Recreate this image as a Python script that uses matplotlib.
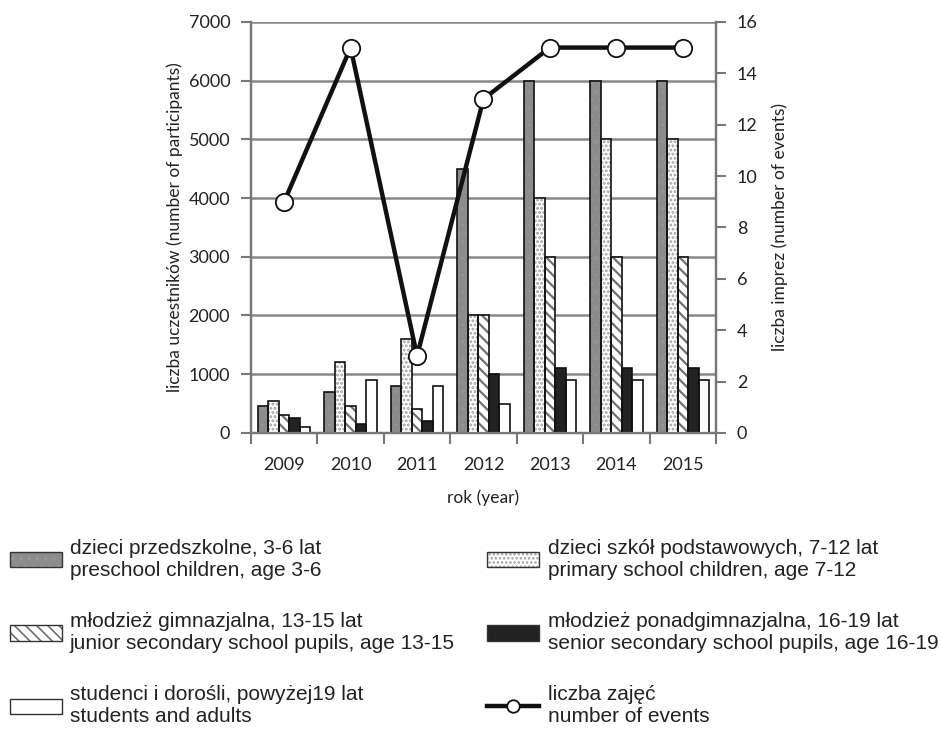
import matplotlib
matplotlib.use("Agg")
import matplotlib.pyplot as plt
import numpy as np
from matplotlib.patches import Patch
from matplotlib.lines import Line2D
from matplotlib.legend_handler import HandlerTuple

years = ["2009", "2010", "2011", "2012", "2013", "2014", "2015"]
preschool = [450, 700, 800, 4500, 6000, 6000, 6000]
primary = [550, 1200, 1600, 2000, 4000, 5000, 5000]
junior = [300, 450, 400, 2000, 3000, 3000, 3000]
senior = [250, 150, 200, 1000, 1100, 1100, 1100]
adults = [100, 900, 800, 500, 900, 900, 900]
events = [9, 15, 3, 13, 15, 15, 15]

labels = [
    "dzieci przedszkolne, 3-6 lat\npreschool children, age 3-6",
    "dzieci szkół podstawowych, 7-12 lat\nprimary school children, age 7-12",
    "młodzież gimnazjalna, 13-15 lat\njunior secondary school pupils, age 13-15",
    "młodzież ponadgimnazjalna, 16-19 lat\nsenior secondary school pupils, age 16-19",
    "studenci i dorośli, powyżej19 lat\nstudents and adults",
    "liczba zajęć\nnumber of events",
]

axfont = "Lato"

fig = plt.figure(figsize=(9.41, 7.30), dpi=100)
ax = fig.add_axes([0.2667, 0.407, 0.4942, 0.563])
ax2 = ax.twinx()

x = np.arange(len(years))
w = 0.158
series = [preschool, primary, junior, senior, adults]
styles = [
    dict(color="#8c8c8c", hatch="..", hcol="#989898", lw=0.5),
    dict(color="#ffffff", hatch="....", hcol="#a0a0a0", lw=1.4),
    dict(color="#ffffff", hatch="\\\\\\", hcol="#707070", lw=1.6),
    dict(color="#222222", hatch=None, hcol="#222222", lw=1.6),
    dict(color="#ffffff", hatch=None, hcol="#ffffff", lw=1.6),
]
handles = []
for i, (vals, st) in enumerate(zip(series, styles)):
    pos = x + (i - 2) * w
    plt.rcParams['hatch.linewidth'] = st["lw"]
    ax.bar(pos, vals, width=w, color=st["color"], hatch=st["hatch"],
           edgecolor=st["hcol"], linewidth=0, zorder=3)
    ax.bar(pos, vals, width=w, fill=False, edgecolor="#111111",
           linewidth=1.2, zorder=4)
    fillp = Patch(facecolor=st["color"], hatch=st["hatch"],
                  edgecolor=st["hcol"], linewidth=0)
    edgep = Patch(fill=False, edgecolor="#333333", linewidth=1.0)
    handles.append((fillp, edgep))
plt.rcParams['hatch.linewidth'] = 1.2

ax2.plot(x, events, color="#111111", lw=3.2, marker="o", markersize=12.5,
         markerfacecolor="white", markeredgecolor="#111111",
         markeredgewidth=1.3, zorder=5)
handles.append(Line2D([0], [0], color="#111111", lw=3.2, marker="o",
                      markersize=9, markerfacecolor="white",
                      markeredgecolor="#111111", markeredgewidth=1.3))

ax.set_xlim(-0.5, 6.5)
ax.set_ylim(0, 7000)
ax2.set_ylim(0, 16)
ax.set_yticks(range(0, 7001, 1000))
ax2.set_yticks(range(0, 17, 2))
ax.set_xticks(x)
ax.set_xticklabels(years)
ax.set_xticks(np.arange(-0.5, 7, 1), minor=True)
ax.tick_params(axis="x", which="major", length=0, pad=17)
ax.tick_params(axis="x", which="minor", length=8, width=1.5, color="#777777")
ax.tick_params(axis="y", length=7, width=1.5, color="#777777", pad=8)
ax2.tick_params(axis="y", length=7, width=1.5, color="#777777", pad=8)

ax.yaxis.grid(True, color="#888888", lw=1.8, zorder=0)
ax.set_axisbelow(True)
for a in (ax, ax2):
    a.spines["top"].set_visible(False)
    for s in ("left", "right", "bottom"):
        a.spines[s].set_color("#777777")
        a.spines[s].set_linewidth(1.6)

for lab in ax.get_yticklabels() + ax.get_xticklabels() + ax2.get_yticklabels():
    lab.set_fontfamily(axfont)
    lab.set_fontsize(13)
    lab.set_color("#222222")

ax.set_ylabel("liczba uczestników (number of participants)", family=axfont,
              fontsize=12.5, color="#222222", labelpad=4)
ax2.set_ylabel("liczba imprez (number of events)", family=axfont,
               fontsize=12.5, color="#222222", labelpad=10, rotation=90)
ax.set_xlabel("rok (year)", family=axfont, fontsize=12.5, color="#222222",
              labelpad=12)

order = [0, 2, 4, 1, 3, 5]
leg = fig.legend([handles[i] for i in order], [labels[i] for i in order],
                 loc="lower left", bbox_to_anchor=(-0.0075, -0.018), ncol=2,
                 frameon=False, prop={"family": "Liberation Sans", "size": 15},
                 handlelength=2.5, handleheight=0.75, handletextpad=0.4,
                 labelspacing=1.55, columnspacing=1.55, borderpad=0.3,
                 handler_map={tuple: HandlerTuple(ndivide=1, pad=0)})
for t in leg.get_texts():
    t.set_color("#222222")

fig.savefig("out.png", dpi=100)
